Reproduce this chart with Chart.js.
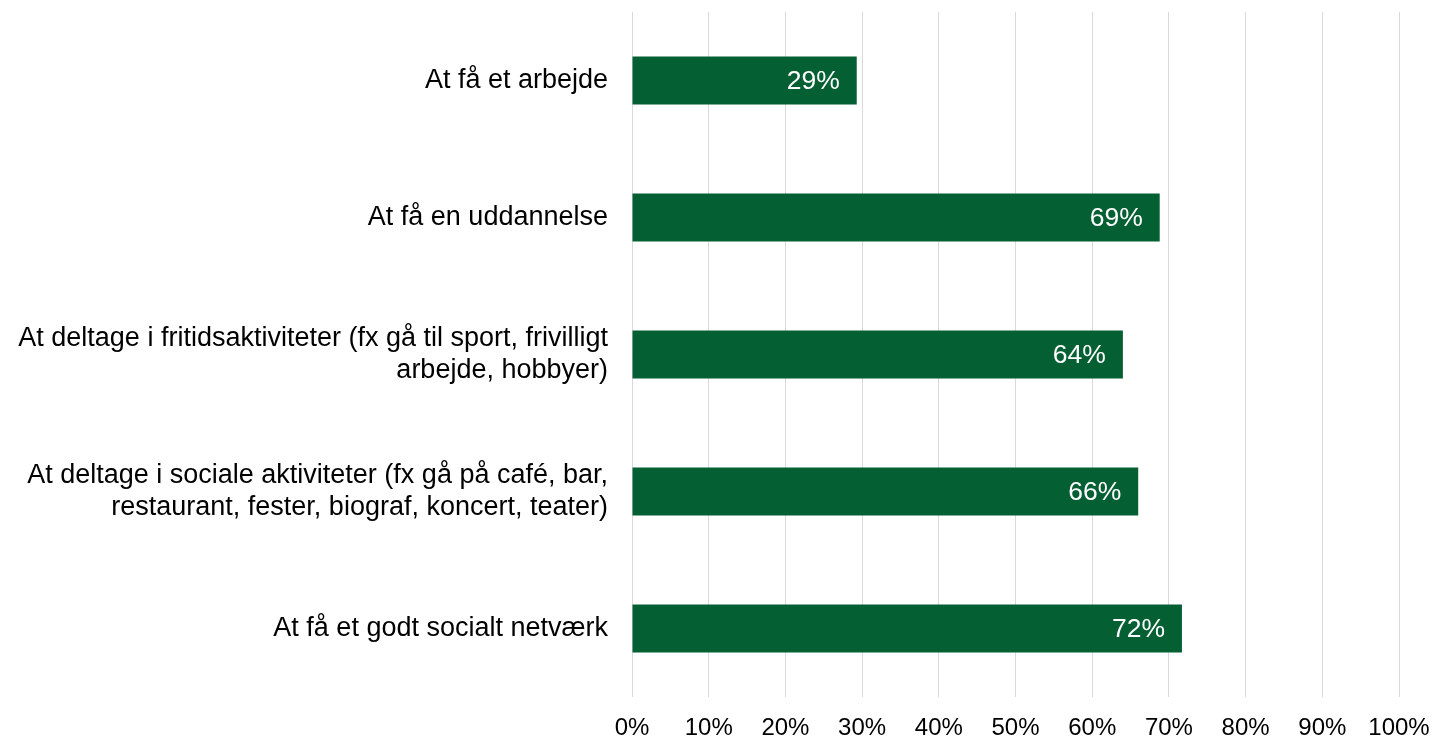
<!DOCTYPE html>
<html>
<head>
<meta charset="utf-8">
<script src="https://cdn.jsdelivr.net/npm/chart.js@4"></script>
<style>
  html, body { margin: 0; padding: 0; background: #fff; }
  #wrap { width: 1434px; height: 741px; }
</style>
</head>
<body>
<div id="wrap"><canvas id="Chart" width="1434" height="741"></canvas></div>
<script>
const categories = [
    ["At få et arbejde"],
    ["At få en uddannelse"],
    ["At deltage i fritidsaktiviteter (fx gå til sport, frivilligt", "arbejde, hobbyer)"],
    ["At deltage i sociale aktiviteter (fx gå på café, bar,", "restaurant, fester, biograf, koncert, teater)"],
    ["At få et godt socialt netværk"]
];
const values = [29.3, 68.8, 64.0, 66.0, 71.7];
const valueLabels = ["29%", "69%", "64%", "66%", "72%"];
const tickLabels = ["0%", "10%", "20%", "30%", "40%", "50%", "60%", "70%", "80%", "90%", "100%"];

const font = "'Liberation Sans', Arial, sans-serif";

const barLabels = {
    id: "barLabels",
    afterDatasetsDraw(chart) {
        const c = chart.ctx;
        const meta = chart.getDatasetMeta(0);
        c.save();
        c.fillStyle = "#ffffff";
        c.font = "26.5px " + font;
        c.textAlign = "right";
        c.textBaseline = "middle";
        meta.data.forEach((bar, i) => {
            c.fillText(valueLabels[i], bar.x - 17, bar.y + 1);
        });
        c.restore();
    }
};

const ctx = document.getElementById("Chart");
new Chart(ctx, {
    type: "bar",
    data: {
        labels: categories,
        datasets: [{
            data: values,
            backgroundColor: "#045f33",
            borderWidth: 0,
            categoryPercentage: 1,
            barPercentage: 0.35,
        }]
    },
    options: {
        indexAxis: "y",
        responsive: false,
        animation: false,
        layout: { padding: { top: 12, right: 35, left: 0, bottom: 0 } },
        plugins: {
            legend: { display: false },
            tooltip: { enabled: false },
        },
        scales: {
            x: {
                min: 0,
                max: 100,
                grid: { color: "#d9d9d9", lineWidth: 1, drawTicks: false },
                border: { display: false },
                ticks: {
                    stepSize: 10,
                    color: "#000",
                    padding: 17,
                    maxRotation: 0,
                    font: { family: font, size: 24 },
                    callback: (v, i) => tickLabels[i],
                },
                afterFit: (s) => { s.height = 44; s.paddingLeft = 0; s.paddingRight = 0; },
            },
            y: {
                grid: { display: false, drawTicks: false },
                border: { display: false },
                ticks: {
                    color: "#000",
                    padding: 24,
                    font: { family: font, size: 27, lineHeight: 1.19 },
                },
                afterFit: (s) => { s.width = 632; s.paddingTop = 0; s.paddingBottom = 0; },
            }
        }
    },
    plugins: [barLabels]
});
</script>
</body>
</html>
